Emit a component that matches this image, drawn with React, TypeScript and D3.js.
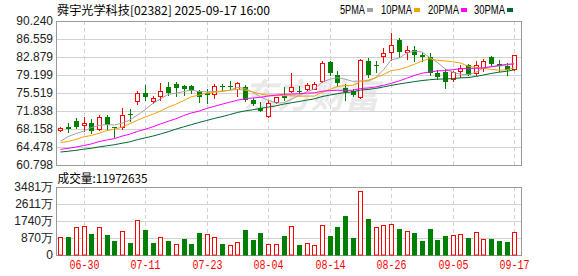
import React from 'react';
import * as d3 from 'd3';

const title = '舜宇光学科技[02382] 2025-09-17 16:00';
const volumeTitle = '成交量:11972635';

const dates = [
  '06-25','06-26','06-27','06-30','07-02','07-03','07-04','07-07','07-08','07-09',
  '07-10','07-11','07-14','07-15','07-16','07-17','07-18','07-21','07-22','07-23',
  '07-24','07-25','07-28','07-29','07-30','07-31','08-01','08-04','08-05','08-06',
  '08-07','08-08','08-11','08-12','08-13','08-14','08-15','08-18','08-19','08-20',
  '08-21','08-22','08-25','08-26','08-27','08-28','08-29','09-01','09-02','09-03',
  '09-04','09-05','09-08','09-09','09-10','09-11','09-12','09-15','09-16','09-17',
];
const opens = [
  68.0, 68.6, 69.79, 68.98, 69.43, 68.26, 70.51, 68.51, 68.57, 71.2,
  73.82, 75.58, 73.88, 74.91, 76.69, 77.36, 76.95, 76.95, 75.93, 75.42,
  75.31, 76.95, 76.92, 76.34, 76.75, 73.99, 72.45, 70.88, 73.68, 74.95,
  75.83, 75.99, 76.28, 76.34, 78.03, 81.86, 79.2, 76.48, 75.83, 74.7,
  82.16, 81.25, 83.02, 83.9, 86.36, 83.9, 84.21, 83.33, 82.92, 79.61,
  79.81, 78.28, 80.02, 81.18, 79.55, 80.63, 82.82, 81.45, 81.04, 80.37,
];
const highs = [
  68.6, 69.4, 70.41, 70.61, 70.2, 71.02, 70.92, 68.57, 72.39, 72.25,
  76.03, 77.16, 74.91, 77.56, 77.67, 77.67, 77.22, 77.15, 76.13, 76.34,
  77.26, 77.46, 78.07, 77.87, 77.16, 74.5, 73.78, 74.09, 74.8, 76.75,
  79.67, 77.05, 77.63, 77.77, 82.06, 82.1, 80.02, 77.36, 76.24, 82.57,
  82.67, 82.06, 84.72, 87.72, 86.76, 85.03, 85.13, 83.9, 83.7, 80.22,
  80.43, 80.02, 81.24, 81.55, 81.96, 82.53, 83.08, 82.27, 81.65, 83.39,
];
const lows = [
  67.8, 67.45, 68.36, 67.85, 67.24, 67.95, 67.95, 66.52, 68.16, 69.8,
  73.27, 74.09, 73.53, 74.19, 75.01, 74.84, 75.11, 75.52, 73.68, 73.47,
  74.5, 75.99, 76.34, 74.97, 73.88, 73.07, 71.74, 70.55, 73.47, 74.19,
  75.78, 75.46, 76.19, 76.24, 77.83, 79.3, 76.95, 74.09, 74.91, 74.44,
  78.79, 79.81, 81.86, 82.27, 82.88, 82.47, 82.06, 82.06, 79.26, 78.32,
  76.6, 77.97, 78.69, 79.1, 79.2, 80.02, 81.14, 80.02, 79.3, 80.22,
];
const closes = [
  68.3, 68.24, 68.63, 69.39, 67.75, 70.51, 68.98, 68.3, 71.12, 71.05,
  75.52, 74.64, 74.5, 75.93, 75.62, 76.64, 76.34, 75.99, 74.6, 75.21,
  76.95, 76.81, 76.85, 77.5, 74.09, 73.21, 71.94, 73.41, 74.64, 74.4,
  76.68, 75.87, 77.16, 77.36, 81.65, 79.55, 77.5, 75.72, 75.05, 82.2,
  79.2, 81.14, 83.64, 85.33, 83.8, 84.31, 83.33, 82.78, 79.65, 78.83,
  77.81, 79.75, 80.69, 79.3, 81.24, 82.06, 81.49, 80.98, 80.22, 83.29,
];
// volume in 万股
const volumes = [
  904, 921, 1416, 1467, 1075, 1416, 1024, 717, 1211, 614,
  1774, 1280, 614, 904, 717, 546, 819, 563, 1126, 1058,
  904, 563, 495, 648, 1280, 768, 1126, 546, 546, 972,
  1467, 512, 597, 495, 1518, 972, 1433, 1996, 870, 3258,
  1842, 1416, 1518, 1570, 1331, 1211, 1126, 734, 1331, 768,
  972, 1007, 1058, 870, 1160, 802, 819, 717, 665, 1197,
];
// closes before the visible window (estimated from where the MA lines start)
const priorCloses = [
  63.5, 63.0, 62.5, 62.0, 62.5, 62.0, 61.5, 62.0, 62.5, 62.0,
  64.0, 63.5, 63.0, 61.5, 61.0, 62.5, 62.5, 61.0, 63.0, 64.2,
  66.0, 64.5, 64.0, 65.0, 66.0, 63.5, 65.5, 67.0, 64.0,
];

const priceTicks = [90.240, 86.559, 82.879, 79.199, 75.519, 71.838, 68.158, 64.478, 60.798];
const volumeTicks = [3481, 2611, 1740, 870, 0];
const volumeTickLabels = ['3481万', '2611万', '1740万', '870万', '0'];
const dateTicks = ['06-30', '07-11', '07-23', '08-04', '08-14', '08-26', '09-05', '09-17'];

const maPeriods = [5, 10, 20, 30];
const maNames = ['5PMA', '10PMA', '20PMA', '30PMA'];
const maColors = ['#a3a3a3', '#f4a300', '#ff00ff', '#00692f'];

const RED = '#ff0000';
const GREEN = '#008000';
const FRAME = '#9a9a9a';
const GRID = '#d2d2d2';

export default function App() {
  const W = 578, H = 276;
  const L = 56, R = 522;
  const pTop = 21, pBot = 165;
  const vTop = 187, vBot = 255;

  const x = d3.scaleBand<string>().domain(dates).range([56.65, 518.05]);
  const cx = (i: number) => (x(dates[i]) as number) + x.bandwidth() / 2;
  const y = d3.scaleLinear().domain([priceTicks[priceTicks.length - 1], priceTicks[0]]).range([pBot, pTop]);
  const yv = d3.scaleLinear().domain([0, volumeTicks[0]]).range([vBot, vTop]);

  const all = [...priorCloses, ...closes];
  const off = priorCloses.length;
  const maSeries = maPeriods.map((p) =>
    closes.map((_, i) => d3.mean(all.slice(off + i - p + 1, off + i + 1)) as number)
  );
  const line = d3.line<number>().x((_, i) => cx(i)).y((d) => y(d));

  const sans = "'Liberation Sans', Arial, sans-serif";
  const cjk = "'Noto Sans CJK SC', 'Liberation Sans', sans-serif";
  const mono = "'Liberation Mono', 'DejaVu Sans Mono', monospace";

  const legendX = [340, 381, 428, 474];
  const legendW = [25, 31, 31, 31];

  return (
    <svg width={W} height={H} style={{ position: 'absolute', left: 0, top: 0, background: '#fff' }}>
      <rect x={0} y={0} width={W} height={H} fill="#fff" />
      {/* title */}
      <text x={57} y={9.5} dominantBaseline="central" fontFamily={cjk} fontSize={12} fill="#000"
        textLength={213} lengthAdjust="spacingAndGlyphs">{title}</text>
      {/* legend */}
      {maNames.map((n, k) => (
        <g key={n}>
          <text x={legendX[k]} y={9.5} dominantBaseline="central" fontFamily={sans} fontSize={12}
            fill="#000" textLength={legendW[k]} lengthAdjust="spacingAndGlyphs">{n}</text>
          <rect x={legendX[k] + legendW[k] + 2} y={8} width={6} height={4} fill={maColors[k]} />
        </g>
      ))}

      {/* watermark */}
      <text x={311} y={108} textAnchor="middle" fontFamily={cjk} fontSize={34} fontWeight="bold"
        fontStyle="italic" fill="#e9e9e9">东方财富</text>

      {/* price grid */}
      {priceTicks.slice(1, -1).map((t) => (
        <line key={t} x1={L} x2={R} y1={Math.round(y(t)) + 0.5} y2={Math.round(y(t)) + 0.5} stroke={GRID} />
      ))}
      {volumeTicks.slice(1, -1).map((t) => (
        <line key={t} x1={L} x2={R} y1={Math.round(yv(t)) + 0.5} y2={Math.round(yv(t)) + 0.5} stroke={GRID} />
      ))}
      {dateTicks.map((d) => {
        const xx = Math.round(cx(dates.indexOf(d))) + 0.5;
        return (
          <g key={d}>
            <line x1={xx} x2={xx} y1={pTop} y2={pBot} stroke={GRID} strokeDasharray="4,3" />
            <line x1={xx} x2={xx} y1={vTop} y2={vBot} stroke={GRID} strokeDasharray="4,3" />
          </g>
        );
      })}

      {/* frames */}
      <rect x={L + 0.5} y={pTop + 0.5} width={R - L - 1} height={pBot - pTop} fill="none" stroke={FRAME} />
      <rect x={L + 0.5} y={vTop + 0.5} width={R - L - 1} height={vBot - vTop} fill="none" stroke={FRAME} />

      {/* price labels */}
      {priceTicks.map((t) => (
        <text key={t} x={53} y={y(t)} textAnchor="end" dominantBaseline="central" fontFamily={sans}
          fontSize={12} fill="#222">{t.toFixed(3)}</text>
      ))}
      {/* volume labels */}
      {volumeTicks.map((t, k) => (
        <text key={t} x={53} y={yv(t)} textAnchor="end" dominantBaseline="central" fontFamily={sans}
          fontSize={12} fill="#222">{volumeTickLabels[k]}</text>
      ))}
      <text x={57.5} y={177} dominantBaseline="central" fontFamily={cjk} fontSize={12} fill="#000"
        textLength={90} lengthAdjust="spacingAndGlyphs">{volumeTitle}</text>

      {/* date labels */}
      {dateTicks.map((d) => (
        <text key={d} x={Math.round(cx(dates.indexOf(d))) + 0.5} y={266} textAnchor="middle"
          dominantBaseline="central" fontFamily={mono} fontSize={12} fill={RED}
          textLength={30} lengthAdjust="spacingAndGlyphs">{d}</text>
      ))}

      {/* candles */}
      {dates.map((d, i) => {
        const o = opens[i], c = closes[i];
        const xc = Math.round(cx(i));
        const up = c >= o;
        const yt = Math.round(y(Math.max(o, c)));
        const yb = Math.round(y(Math.min(o, c)));
        const yh = Math.round(y(highs[i]));
        const yl = Math.round(y(lows[i]));
        if (up) {
          const hgt = Math.max(yb - yt, 1);
          return (
            <g key={d}>
              <line x1={xc + 0.5} x2={xc + 0.5} y1={yh} y2={yt} stroke={RED} />
              <line x1={xc + 0.5} x2={xc + 0.5} y1={yt + hgt + 1} y2={yl + 1} stroke={RED} />
              <rect x={xc - 1.5} y={yt + 0.5} width={4} height={hgt} fill="#fff" stroke={RED} />
            </g>
          );
        }
        return (
          <g key={d}>
            <line x1={xc + 0.5} x2={xc + 0.5} y1={yh} y2={yl + 1} stroke={GREEN} />
            <rect x={xc - 2} y={yt} width={5} height={Math.max(yb - yt, 1)} fill={GREEN} />
          </g>
        );
      })}

      {/* moving averages */}
      {maSeries.map((s, k) => (
        <path key={maNames[k]} d={line(s) as string} fill="none" stroke={maColors[k]} strokeWidth={1} />
      ))}

      {/* volume bars */}
      {volumes.map((v, i) => {
        const prev = i === 0 ? priorCloses[priorCloses.length - 1] : closes[i - 1];
        const up = closes[i] >= prev;
        const xc = Math.round(cx(i));
        const top = Math.round(yv(v));
        if (up) {
          return (
            <rect key={dates[i]} x={xc - 1.5} y={top + 0.5} width={4} height={vBot - top - 0.5}
              fill="#fff" stroke={RED} />
          );
        }
        return <rect key={dates[i]} x={xc - 2} y={top} width={5} height={vBot - top + 0.5} fill={GREEN} />;
      })}
    </svg>
  );
}
